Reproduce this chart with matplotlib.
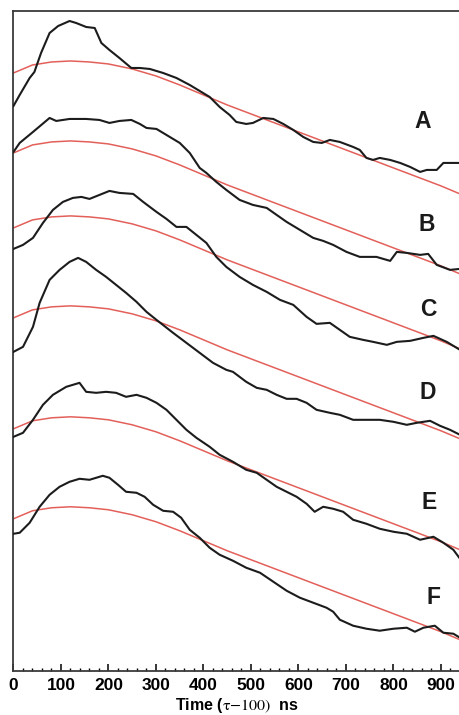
import numpy as np
import matplotlib.pyplot as plt
from matplotlib.ticker import MultipleLocator

plt.rcParams['font.family'] = ['Liberation Sans', 'DejaVu Sans']
plt.rcParams['mathtext.fontset'] = 'stix'

# measured traces (time in ns, signal in arbitrary units incl. vertical offset)
t_a = [0, 13, 34, 44, 58, 76, 94, 118, 132, 153, 171, 185, 202, 223, 248, 266, 287, 315, 343, 371,
       392, 413, 434, 455, 469, 490, 504, 526, 547, 568, 589, 610, 631, 649, 666, 687, 715, 729, 743, 757,
       771, 793, 814, 835, 856, 870, 891, 905, 940]
y_a = [565, 576, 593, 599, 618, 638, 645, 650, 648, 644, 643, 628, 621, 613, 603, 603, 602, 598, 593, 586,
       580, 574, 564, 556, 549, 547, 548, 553, 552, 547, 541, 534, 529, 528, 531, 529, 524, 521, 513, 511,
       513, 511, 508, 504, 499, 501, 501, 508, 508]

t_b = [0, 13, 41, 76, 90, 118, 153, 181, 202, 223, 248, 266, 280, 301, 322, 350, 371, 392, 406, 427,
       448, 476, 504, 533, 554, 575, 603, 631, 652, 673, 701, 729, 764, 793, 807, 828, 856, 873, 891, 919, 940]
y_b = [519, 528, 539, 553, 550, 552, 552, 551, 548, 550, 551, 547, 543, 542, 536, 528, 518, 503, 498, 489,
       481, 471, 466, 463, 456, 449, 441, 433, 430, 426, 419, 414, 414, 410, 419, 418, 416, 417, 406, 401, 402]

t_c = [0, 20, 41, 62, 83, 104, 125, 143, 160, 181, 202, 223, 252, 273, 301, 322, 343, 364, 385, 406,
       427, 448, 476, 504, 533, 561, 589, 617, 638, 666, 687, 708, 736, 757, 786, 807, 835, 863, 884, 912, 940]
y_c = [422, 426, 433, 448, 461, 469, 473, 474, 472, 476, 480, 478, 477, 469, 459, 452, 444, 444, 436, 428,
       414, 404, 394, 386, 379, 371, 366, 354, 347, 348, 341, 334, 331, 329, 326, 329, 330, 333, 335, 329, 321]

t_d = [0, 20, 41, 55, 76, 97, 118, 136, 153, 174, 195, 216, 237, 259, 280, 301, 336, 364, 392, 420,
       448, 462, 490, 512, 533, 554, 575, 596, 617, 638, 666, 687, 715, 743, 771, 800, 828, 849, 877, 898, 919, 940]
y_d = [319, 324, 344, 368, 391, 401, 409, 413, 409, 401, 394, 386, 378, 369, 359, 351, 338, 328, 318, 308,
       301, 299, 289, 283, 281, 276, 272, 272, 268, 261, 258, 256, 251, 251, 251, 249, 246, 248, 250, 245, 241, 236]

t_e = [0, 20, 41, 62, 83, 111, 139, 153, 174, 195, 216, 237, 259, 280, 301, 322, 343, 364, 385, 413,
       434, 462, 490, 512, 533, 554, 575, 596, 617, 634, 652, 673, 694, 715, 743, 771, 800, 828, 856, 884,
       905, 926, 940]
y_e = [234, 238, 251, 266, 276, 284, 288, 279, 278, 279, 278, 274, 276, 273, 268, 261, 251, 241, 233, 224,
       216, 209, 201, 198, 191, 184, 179, 174, 167, 159, 164, 162, 159, 151, 147, 142, 139, 137, 131, 134,
       128, 121, 112]

t_f = [0, 13, 34, 55, 76, 97, 118, 139, 160, 174, 188, 202, 220, 237, 259, 276, 294, 315, 336, 353,
       371, 392, 413, 434, 462, 490, 519, 547, 575, 603, 631, 659, 673, 687, 715, 743, 771, 800, 828, 845,
       863, 887, 905, 926, 940]
y_f = [137, 138, 148, 164, 176, 184, 189, 192, 191, 193, 195, 193, 186, 179, 178, 174, 166, 160, 159, 153,
       141, 133, 123, 116, 110, 103, 98, 89, 80, 73, 68, 63, 59, 51, 45, 42, 40, 42, 43, 39,
       43, 45, 38, 37, 33]

# fitted curve (same shape for every trace), plus per-trace level at t=0
fit_t = [0, 40, 80, 120, 160, 200, 250, 300, 350, 400, 450, 500, 600, 700, 800, 900, 940]
fit_shape = [0, 8, 11, 12, 11, 9, 4, -3, -12, -22, -32, -41, -59, -77, -95, -113, -121]
fit_start = [598, 518, 443, 353, 242, 152]

labels = ['A', 'B', 'C', 'D', 'E', 'F']
label_t = [862, 871, 873, 873, 875, 885]
label_y = [549, 446, 361, 278, 168, 73]

traces = [(t_a, y_a), (t_b, y_b), (t_c, y_c), (t_d, y_d), (t_e, y_e), (t_f, y_f)]

fig = plt.figure(figsize=(4.6, 7.15), dpi=100)
ax = fig.add_axes([13.5 / 460, 44.3 / 715, 1 - 13.5 / 460, 659.7 / 715])

red = '#e3605a'
for (t, y), y0 in zip(traces, fit_start):
    ax.plot(t, y, color='#1c1c1c', lw=1.5, zorder=3, solid_joinstyle='round')
    ax.plot(fit_t, np.array(fit_shape) + y0, color=red, lw=1.1, zorder=2)

for lab, lt, ly in zip(labels, label_t, label_y):
    ax.text(lt, ly, lab, fontsize=16.5, fontweight='bold', ha='center', va='center', color='#1a1a1a')

ax.set_xlim(0, 940)
ax.set_ylim(0, 660)
ax.xaxis.set_major_locator(MultipleLocator(100))
ax.xaxis.set_minor_locator(MultipleLocator(20))
ax.set_yticks([])
ax.tick_params(axis='x', which='major', direction='in', length=5, width=1.1, pad=5, labelsize=12.5)
ax.tick_params(axis='x', which='minor', direction='in', length=2.5, width=1.0)
for lbl in ax.get_xticklabels():
    lbl.set_fontweight('bold')

ax.spines['right'].set_visible(False)
for s in ['left', 'bottom', 'top']:
    ax.spines[s].set_color('#3a3a3a')
    ax.spines[s].set_linewidth(1.3)

ax.set_xlabel(r'Time ($\mathrm{\tau{-}100)}$  ns', fontsize=11.5, fontweight='bold', labelpad=2.5)

fig.savefig('out.png', dpi=100)
